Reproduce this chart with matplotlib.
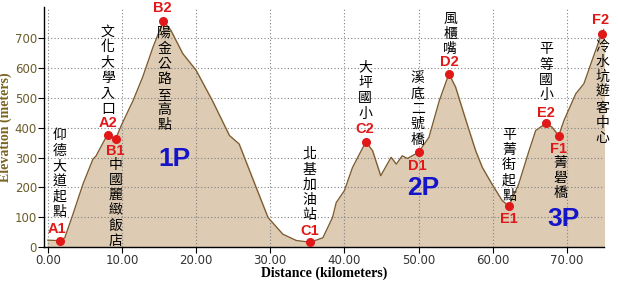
import matplotlib
matplotlib.use("Agg")
import matplotlib.pyplot as plt

# ---- data ----
distance_km = [0, 1.0, 1.6, 2.3, 3.4, 4.75, 6.1, 6.5, 7.9, 8.1, 8.6, 9.15, 9.9, 11.5, 12.8,
               14.2, 15.6, 16.6, 18.2, 20.0, 22.2, 24.5, 25.8, 28.1, 29.7, 31.7, 33.5, 35.4,
               37.1, 38.4, 38.9, 40.0, 41.1, 42.9, 43.8, 44.9, 46.3, 47.0, 47.8, 48.5, 50.0,
               51.4, 52.8, 54.1, 55.0, 56.4, 57.7, 58.6, 59.9, 61.3, 62.2, 63.5, 64.9, 65.8,
               67.2, 68.0, 68.9, 69.6, 71.2, 72.3, 73.4, 74.7, 75.0]
elevation_m = [23, 22, 22, 31, 110, 211, 295, 305, 370, 377, 370, 362, 407, 491, 570,
               671, 759, 727, 649, 593, 491, 374, 346, 200, 99, 43, 22, 16,
               31, 99, 149, 189, 267, 353, 323, 239, 301, 278, 306, 297, 318,
               368, 491, 581, 536, 424, 323, 267, 211, 155, 138, 211, 323, 391,
               415, 402, 373, 424, 514, 548, 626, 716, 730]

point_ids = ["A1", "A2", "B1", "B2", "C1", "C2", "D1", "D2", "E1", "E2", "F1", "F2"]
point_km = [1.6, 8.1, 9.15, 15.6, 35.4, 42.9, 50.0, 54.1, 62.2, 67.2, 68.9, 74.7]
point_elev = [20, 377, 362, 759, 16, 353, 318, 581, 138, 415, 373, 716]
place_names = ["仰德大道起點", "文化大學入口", "中國麗緻飯店", "陽金公路至高點", "北基加油站",
               "大坪國小", "溪底二號橋", "風櫃嘴", "平菁街起點", "平等國小", "菁礐橋",
               "冷水坑遊客中心"]
section_names = ["1P", "2P", "3P"]

x_ticks = [0, 10, 20, 30, 40, 50, 60, 70]
y_ticks = [0, 100, 200, 300, 400, 500, 600, 700]

# ---- layout for labels (data coords) ----
id_pos = [(1.3, 60), (8.1, 416), (9.15, 323), (15.5, 801), (35.3, 54), (42.8, 397),
          (49.9, 273), (54.1, 620), (62.2, 94), (67.2, 451), (68.9, 330), (74.5, 761)]
# (x, y, vertical alignment)
name_pos = [(1.6, 94, "bottom"), (8.1, 441, "bottom"), (9.15, 300, "top"), (15.7, 740, "top"),
            (35.3, 84, "bottom"), (42.8, 424, "bottom"), (49.9, 337, "bottom"),
            (54.3, 640, "bottom"), (62.2, 400, "top"), (67.2, 485, "bottom"),
            (69.1, 306, "top"), (74.8, 697, "top")]
section_pos = [(17.1, 296), (50.7, 199), (69.6, 94)]

fig = plt.figure(figsize=(6.18, 2.93), dpi=100)
ax = fig.add_axes([0.0712, 0.157, 0.906, 0.819])

line_col = "#7a5a2e"
fill_col = "#ddcbb4"
ax.fill_between(distance_km, elevation_m, 0, color=fill_col, zorder=1)
ax.plot(distance_km, elevation_m, color=line_col, lw=0.9, zorder=3)

ax.set_xlim(-0.5, 75.0)
ax.set_ylim(0, 805)
ax.set_xticks(x_ticks)
ax.set_xticklabels([f"{v:.2f}" for v in x_ticks])
ax.set_yticks(y_ticks)
ax.grid(True, color="#808080", linestyle=(0, (1, 2)), linewidth=0.8, zorder=2)
ax.set_axisbelow(False)
for s in ["top", "right"]:
    ax.spines[s].set_visible(False)
for s in ["left", "bottom"]:
    ax.spines[s].set_linewidth(1.0)
    ax.spines[s].set_zorder(5)

tick_col = "#6b5c2a"
ax.tick_params(axis="y", labelsize=8.5, colors="black", labelcolor=tick_col, length=4, pad=1)
ax.tick_params(axis="x", labelsize=8.5, colors="black", labelcolor="#333333", length=4, pad=1)
for lab in ax.get_xticklabels() + ax.get_yticklabels():
    lab.set_family("DejaVu Sans")

ax.set_xlabel("Distance (kilometers)", fontfamily="Liberation Serif", fontweight="bold",
              fontsize=10, labelpad=0)
ax.set_ylabel("Elevation (meters)", fontfamily="Liberation Serif", fontweight="bold",
              fontsize=10, color="#7a6420", labelpad=2)

ax.plot(point_km, point_elev, "o", color="#e01818", markersize=5.5, zorder=6, clip_on=False)

for pid, (x, y) in zip(point_ids, id_pos):
    ax.text(x, y, pid, color="#e01818", fontsize=10.5, fontweight="bold",
            fontfamily="Liberation Sans", ha="center", va="center", zorder=7, clip_on=False)

for name, (x, y, va) in zip(place_names, name_pos):
    ax.text(x, y, "\n".join(name), fontsize=10, fontfamily=["Noto Sans CJK TC", "DejaVu Sans"],
            color="black", ha="center", va=va, linespacing=1.12, zorder=7)

for sec, (x, y) in zip(section_names, section_pos):
    ax.text(x, y, sec, fontsize=19, fontweight="bold", fontfamily="Liberation Sans",
            color="#1414c8", ha="center", va="center", zorder=7)

fig.savefig("out.png", dpi=100)
